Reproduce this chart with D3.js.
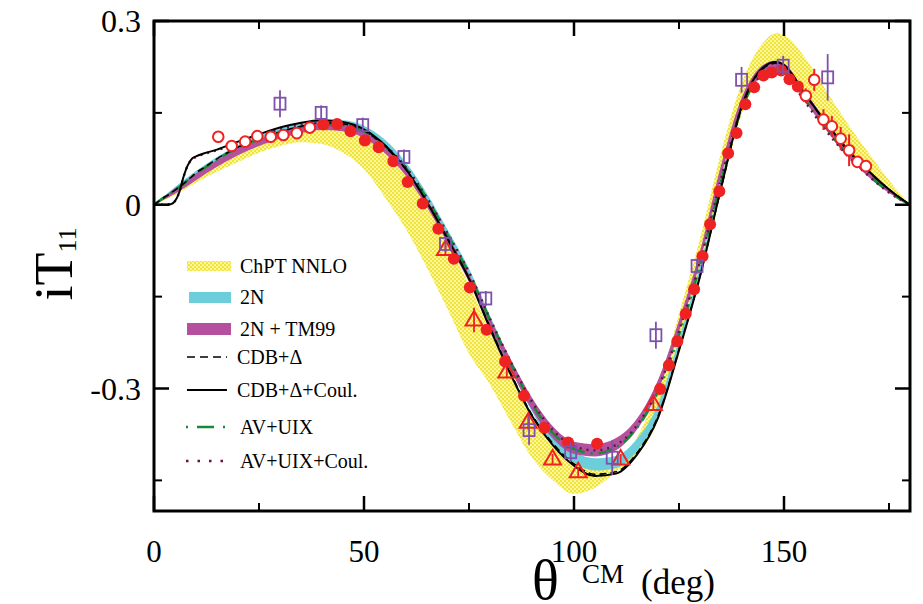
<!DOCTYPE html>
<html><head><meta charset="utf-8">
<script src="https://cdn.jsdelivr.net/npm/d3@7"></script>
<style>body{margin:0;background:#fff;} svg{display:block;}</style>
</head><body>
<svg id="chart" width="923" height="604"></svg>
<script>
// ---------- data ----------
const xTicksMajor = [0, 50, 100, 150];
const xTicksMinor = [25, 75, 125, 175];
const yTicksMajor = [0.3, 0, -0.3];
const yTickLabels = ["0.3", "0", "-0.3"];
const yTicksMinor = [0.15, -0.15, -0.45];

const curveTheta = [0,2,4,5,6,7,8,9,10,12,15,20,25,30,35,40,45,50,55,60,65,70,75,80,85,90,95,100,105,110,115,120,125,130,135,140,145,148,150,155,160,165,170,175,180];
const cdbDelta = [0,0.010,0.019,0.024,0.029,0.034,0.040,0.046,0.052,0.061,0.075,0.094,0.108,0.119,0.128,0.134,0.132,0.121,0.095,0.057,0.004,-0.057,-0.120,-0.200,-0.276,-0.343,-0.390,-0.423,-0.440,-0.436,-0.405,-0.345,-0.236,-0.116,0.026,0.160,0.222,0.231,0.226,0.180,0.133,0.090,0.055,0.025,0];
const cdbDeltaCoul = [0,0.000,0.001,0.006,0.020,0.045,0.064,0.075,0.079,0.084,0.090,0.103,0.115,0.126,0.134,0.138,0.135,0.123,0.097,0.058,0.004,-0.057,-0.121,-0.202,-0.278,-0.345,-0.393,-0.426,-0.443,-0.439,-0.408,-0.348,-0.238,-0.117,0.027,0.162,0.224,0.233,0.228,0.181,0.134,0.091,0.056,0.025,0];
const avUix = [0,0.010,0.019,0.024,0.029,0.034,0.040,0.046,0.051,0.060,0.074,0.093,0.107,0.118,0.127,0.131,0.129,0.120,0.096,0.060,0.010,-0.050,-0.112,-0.188,-0.260,-0.325,-0.373,-0.399,-0.406,-0.396,-0.364,-0.305,-0.212,-0.098,0.038,0.158,0.214,0.222,0.217,0.171,0.124,0.083,0.049,0.021,0];
const avUixCoul = [0,0.000,0.001,0.006,0.020,0.045,0.064,0.074,0.078,0.083,0.089,0.100,0.113,0.123,0.131,0.134,0.131,0.121,0.097,0.061,0.011,-0.048,-0.110,-0.186,-0.257,-0.321,-0.368,-0.394,-0.401,-0.392,-0.360,-0.300,-0.206,-0.093,0.042,0.160,0.213,0.220,0.214,0.168,0.121,0.081,0.048,0.020,0];

const bandTheta = [0,5,10,15,20,25,30,35,40,45,50,55,60,65,70,75,80,85,90,95,100,105,110,115,120,125,130,135,140,145,148,150,155,160,165,170,175,180];
const nnloHi = [0,0.022,0.045,0.066,0.085,0.100,0.112,0.121,0.125,0.123,0.113,0.088,0.050,-0.003,-0.065,-0.130,-0.207,-0.280,-0.345,-0.393,-0.420,-0.433,-0.425,-0.380,-0.300,-0.178,-0.055,0.085,0.200,0.264,0.280,0.277,0.240,0.187,0.134,0.086,0.040,0];
const nnloLo = [0,0.016,0.036,0.054,0.070,0.085,0.096,0.102,0.099,0.085,0.058,0.012,-0.040,-0.103,-0.172,-0.243,-0.294,-0.355,-0.413,-0.450,-0.472,-0.462,-0.436,-0.410,-0.352,-0.243,-0.122,0.020,0.150,0.212,0.222,0.218,0.172,0.125,0.083,0.049,0.021,0];
const n2Hi = [0,0.029,0.055,0.078,0.097,0.112,0.124,0.134,0.139,0.138,0.129,0.106,0.069,0.018,-0.042,-0.104,-0.181,-0.255,-0.322,-0.373,-0.403,-0.414,-0.410,-0.382,-0.326,-0.220,-0.100,0.041,0.169,0.228,0.235,0.230,0.184,0.136,0.093,0.057,0.026,0];
const n2Lo = [0,0.021,0.045,0.068,0.087,0.102,0.114,0.124,0.129,0.128,0.119,0.094,0.057,0.006,-0.054,-0.116,-0.195,-0.269,-0.338,-0.391,-0.421,-0.434,-0.430,-0.402,-0.344,-0.236,-0.116,0.025,0.155,0.216,0.223,0.218,0.172,0.126,0.083,0.049,0.020,0];
const tm99Hi = [0,0.027,0.051,0.073,0.092,0.107,0.119,0.128,0.133,0.131,0.121,0.096,0.059,0.008,-0.052,-0.113,-0.185,-0.253,-0.315,-0.362,-0.387,-0.391,-0.381,-0.349,-0.286,-0.189,-0.076,0.064,0.176,0.228,0.235,0.231,0.185,0.138,0.094,0.058,0.027,0];
const tm99Lo = [0,0.018,0.040,0.062,0.081,0.096,0.108,0.117,0.122,0.120,0.109,0.084,0.047,-0.004,-0.064,-0.126,-0.200,-0.270,-0.335,-0.382,-0.407,-0.411,-0.401,-0.367,-0.304,-0.207,-0.094,0.046,0.160,0.212,0.219,0.215,0.169,0.122,0.080,0.046,0.019,0];

const filledTheta = [40.3,43.6,46.8,50.2,53.5,57.0,60.4,64.0,67.7,71.4,75.2,79.2,83.6,88.1,92.9,98.6,105.5,120.5,122.6,124.6,126.6,128.6,130.6,132.4,134.6,136.7,138.7,140.8,142.9,145.1,147.1,149.3,151.3,153.3];
const filledVal = [0.131,0.132,0.120,0.105,0.094,0.071,0.037,0.002,-0.039,-0.088,-0.135,-0.204,-0.256,-0.312,-0.364,-0.388,-0.390,-0.301,-0.262,-0.223,-0.178,-0.138,-0.084,-0.032,0.022,0.084,0.117,0.164,0.192,0.211,0.216,0.219,0.205,0.193];

const openTheta = [15.3,18.5,21.7,24.6,27.8,30.8,34.0,37.1,155.2,157.2,159.4,161.4,163.5,165.5,167.5,169.5];
const openVal = [0.111,0.096,0.103,0.112,0.111,0.114,0.117,0.126,0.178,0.204,0.139,0.128,0.108,0.089,0.070,0.063];
const openErr = [0,0,0,0,0,0,0,0,0.012,0.018,0.017,0.017,0.019,0.026,0.008,0.006];

const sqTheta = [30.0,39.8,49.7,59.5,69.4,79.0,89.3,99.2,109.1,119.5,129.3,139.9,149.8,160.4];
const sqVal = [0.165,0.150,0.130,0.078,-0.064,-0.153,-0.368,-0.404,-0.413,-0.213,-0.100,0.204,0.227,0.208];
const sqErr = [0.022,0.012,0.012,0.012,0.012,0.012,0.024,0.016,0.028,0.022,0.012,0.021,0.016,0.038];

const triTheta = [69.4,76.2,84.0,89.1,94.9,101.0,111.1,118.9];
const triVal = [-0.073,-0.188,-0.273,-0.355,-0.415,-0.436,-0.415,-0.326];
const triErr = [0.008,0.020,0.008,0.012,0.008,0.008,0.008,0.008];

const legendLabels = ["ChPT NNLO","2N","2N + TM99","CDB+\u0394","CDB+\u0394+Coul.","AV+UIX","AV+UIX+Coul."];

// ---------- drawing ----------
const svg = d3.select("#chart");
const serif = "'Liberation Serif','Times New Roman',Times,serif";
const L = 154, R = 910, T = 21, B = 511;
const x = d3.scaleLinear().domain([0, 180]).range([L, R]);
const y = d3.scaleLinear().domain([-0.5, 0.3]).range([B, T]);

const defs = svg.append("defs");
const pat = defs.append("pattern").attr("id","hatch").attr("patternUnits","userSpaceOnUse")
  .attr("width",4).attr("height",4);
pat.append("rect").attr("width",4).attr("height",4).attr("fill","#fbf69a");
pat.append("rect").attr("width",2).attr("height",2).attr("fill","#f0e43a");
pat.append("rect").attr("x",2).attr("y",2).attr("width",2).attr("height",2).attr("fill","#f0e43a");

const clip = defs.append("clipPath").attr("id","plotclip");
clip.append("rect").attr("x",L).attr("y",T).attr("width",R-L).attr("height",B-T);

const g = svg.append("g").attr("clip-path","url(#plotclip)");

function band(lo, hi) {
  return d3.area().x((d,i)=>x(bandTheta[i])).y0((d,i)=>y(lo[i])).y1((d,i)=>y(hi[i]))
    .curve(d3.curveMonotoneX)(bandTheta);
}
g.append("path").attr("d", band(nnloLo, nnloHi)).attr("fill","url(#hatch)");
g.append("path").attr("d", band(n2Lo, n2Hi)).attr("fill","#6ccedb");
g.append("path").attr("d", band(tm99Lo, tm99Hi)).attr("fill","#b4509e");

function line(vals) {
  return d3.line().x((d,i)=>x(curveTheta[i])).y((d,i)=>y(vals[i])).curve(d3.curveMonotoneX)(curveTheta);
}
g.append("path").attr("d", line(avUix)).attr("fill","none").attr("stroke","#168a3a")
  .attr("stroke-width",2.6).attr("stroke-dasharray","14,6,2,6");
g.append("path").attr("d", line(avUixCoul)).attr("fill","none").attr("stroke","#6a0f45")
  .attr("stroke-width",2.4).attr("stroke-dasharray","2,5").attr("stroke-linecap","butt");
g.append("path").attr("d", line(cdbDelta)).attr("fill","none").attr("stroke","#000")
  .attr("stroke-width",1.6).attr("stroke-dasharray","7,4");
g.append("path").attr("d", line(cdbDeltaCoul)).attr("fill","none").attr("stroke","#000")
  .attr("stroke-width",2);

// data points
const red = "#ee2222", purple = "#7e52aa";
triTheta.forEach((t,i)=>{
  const cx = x(t), cy = y(triVal[i]);
  const e = Math.max(5, y(triVal[i]-triErr[i]) - cy);
  g.append("line").attr("x1",cx).attr("x2",cx).attr("y1",cy-e).attr("y2",cy+e)
    .attr("stroke",red).attr("stroke-width",1.8);
  g.append("path").attr("d",`M${cx},${cy-9}L${cx+8.5},${cy+5.5}L${cx-8.5},${cy+5.5}Z`)
    .attr("fill","none").attr("stroke",red).attr("stroke-width",2);
});
filledTheta.forEach((t,i)=>{
  g.append("circle").attr("cx",x(t)).attr("cy",y(filledVal[i])).attr("r",6).attr("fill",red);
});
openTheta.forEach((t,i)=>{
  const cx = x(t), cy = y(openVal[i]);
  if (openErr[i] > 0) {
    const e = y(openVal[i]-openErr[i]) - cy;
    g.append("line").attr("x1",cx).attr("x2",cx).attr("y1",cy-e).attr("y2",cy+e)
      .attr("stroke",red).attr("stroke-width",2);
  }
  g.append("circle").attr("cx",cx).attr("cy",cy).attr("r",5.3).attr("fill","#fff")
    .attr("stroke",red).attr("stroke-width",2);
});
sqTheta.forEach((t,i)=>{
  const cx = x(t), cy = y(sqVal[i]);
  const e = Math.max(7.5, y(sqVal[i]-sqErr[i]) - cy);
  g.append("line").attr("x1",cx).attr("x2",cx).attr("y1",cy-e).attr("y2",cy+e)
    .attr("stroke",purple).attr("stroke-width",1.8);
  g.append("rect").attr("x",cx-5.5).attr("y",cy-6).attr("width",11).attr("height",12)
    .attr("fill","none").attr("stroke",purple).attr("stroke-width",1.8);
});

// frame and ticks
const ax = svg.append("g");
ax.append("rect").attr("x",L).attr("y",T).attr("width",R-L).attr("height",B-T)
  .attr("fill","none").attr("stroke","#000").attr("stroke-width",3);
xTicksMajor.forEach(t=>{
  ax.append("line").attr("x1",x(t)).attr("x2",x(t)).attr("y1",B).attr("y2",B-15).attr("stroke","#000").attr("stroke-width",2.5);
  ax.append("line").attr("x1",x(t)).attr("x2",x(t)).attr("y1",T).attr("y2",T+15).attr("stroke","#000").attr("stroke-width",2.5);
  ax.append("text").attr("x",x(t)).attr("y",562).attr("text-anchor","middle")
    .attr("font-family",serif).attr("font-size",31).text(t);
});
xTicksMinor.forEach(t=>{
  ax.append("line").attr("x1",x(t)).attr("x2",x(t)).attr("y1",B).attr("y2",B-8).attr("stroke","#000").attr("stroke-width",2);
  ax.append("line").attr("x1",x(t)).attr("x2",x(t)).attr("y1",T).attr("y2",T+8).attr("stroke","#000").attr("stroke-width",2);
});
yTicksMajor.forEach((t,i)=>{
  ax.append("line").attr("x1",L).attr("x2",L+15).attr("y1",y(t)).attr("y2",y(t)).attr("stroke","#000").attr("stroke-width",2.5);
  ax.append("line").attr("x1",R).attr("x2",R-15).attr("y1",y(t)).attr("y2",y(t)).attr("stroke","#000").attr("stroke-width",2.5);
  ax.append("text").attr("x",141).attr("y",y(t)+11).attr("text-anchor","end")
    .attr("font-family",serif).attr("font-size",32).text(yTickLabels[i]);
});
yTicksMinor.forEach(t=>{
  ax.append("line").attr("x1",L).attr("x2",L+8).attr("y1",y(t)).attr("y2",y(t)).attr("stroke","#000").attr("stroke-width",2);
  ax.append("line").attr("x1",R).attr("x2",R-8).attr("y1",y(t)).attr("y2",y(t)).attr("stroke","#000").attr("stroke-width",2);
});

// axis titles
svg.append("text").attr("font-family",serif).attr("x",532).attr("y",599).attr("font-size",56)
  .text("\u03B8");
svg.append("text").attr("font-family",serif).attr("x",582).attr("y",583).attr("font-size",27)
  .text("CM");
svg.append("text").attr("font-family",serif).attr("x",641).attr("y",594).attr("font-size",35)
  .text("(deg)");

const yt = svg.append("text").attr("font-family",serif).attr("transform","translate(72,264) rotate(-90)")
  .attr("text-anchor","middle");
yt.append("tspan").attr("font-size",54).text("iT");
yt.append("tspan").attr("font-size",26).attr("dy",4).text("11");

// legend
const lg = svg.append("g");
const rowY = [266, 297, 329, 357, 390, 427, 461];
lg.append("rect").attr("x",187).attr("y",rowY[0]-5).attr("width",44).attr("height",10).attr("fill","url(#hatch)");
lg.append("rect").attr("x",189).attr("y",rowY[1]-5).attr("width",42).attr("height",11).attr("fill","#6ccedb");
lg.append("rect").attr("x",187).attr("y",rowY[2]-6).attr("width",44).attr("height",12).attr("fill","#b4509e");
lg.append("line").attr("x1",187).attr("x2",227).attr("y1",rowY[3]).attr("y2",rowY[3])
  .attr("stroke","#000").attr("stroke-width",1.6).attr("stroke-dasharray","8,5");
lg.append("line").attr("x1",187).attr("x2",227).attr("y1",rowY[4]).attr("y2",rowY[4])
  .attr("stroke","#000").attr("stroke-width",2);
lg.append("line").attr("x1",186).attr("x2",226).attr("y1",rowY[5]).attr("y2",rowY[5])
  .attr("stroke","#168a3a").attr("stroke-width",2.6).attr("stroke-dasharray","2,9,17,9,2");
lg.append("line").attr("x1",186).attr("x2",226).attr("y1",rowY[6]).attr("y2",rowY[6])
  .attr("stroke","#6a0f45").attr("stroke-width",2.6).attr("stroke-dasharray","2.5,9");
legendLabels.forEach((s,i)=>{
  lg.append("text").attr("x", i===3||i===4 ? 237 : 240).attr("y",rowY[i]+7)
    .attr("font-family",serif).attr("font-size",20).text(s);
});
</script>
</body></html>
